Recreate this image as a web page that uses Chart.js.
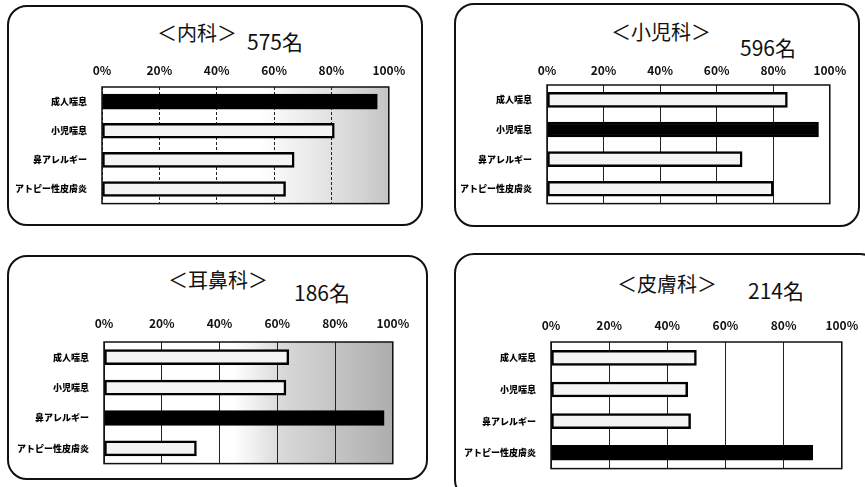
<!DOCTYPE html>
<html>
<head>
<meta charset="utf-8">
<script src="https://cdn.jsdelivr.net/npm/chart.js@4"></script>
<style>
  body { margin:0; width:865px; height:487px; overflow:hidden; background:#fff; position:relative;
         font-family:"Noto Sans CJK JP","Noto Sans",sans-serif; }
  .box { position:absolute; border:2px solid #111; border-radius:20px; box-sizing:border-box; }
  .t { position:absolute; font-size:20px; color:#111; white-space:nowrap; line-height:1; transform:translate(-50%,-50%); }
  .n { font-size:21px; }
  canvas { position:absolute; }
</style>
</head>
<body>
<script>
// Survey: share of respondents per condition, by clinical department
const categories = ['成人喘息', '小児喘息', '鼻アレルギー', 'アトピー性皮膚炎'];
const tickLabels = ['0%', '20%', '40%', '60%', '80%', '100%'];
const departments = ['内科', '小児科', '耳鼻科', '皮膚科'];
const respondents = [575, 596, 186, 214];
const naikaValues   = [96, 81, 67, 64];
const shonikaValues = [85, 96, 69, 80];
const jibikaValues  = [64, 63, 97, 32];
const hifukaValues  = [50, 47, 48, 90];
const highlighted   = [0, 1, 2, 3]; // condition emphasised in each department

const seriesByDept = [naikaValues, shonikaValues, jibikaValues, hifukaValues];

// Panel geometry and styling
const panels = [
  { box:{l:7, t:5, r:423, b:226},   plot:{l:102, t:87, r:391, b:213},
    title:{x:197, y:33}, count:{x:275, y:41}, tickGap:17, dash:[3,2],
    shade:[[0.55,0],[0.78,0.14],[0.9,0.22],[1,0.3]] },
  { box:{l:454, t:3, r:860, b:227}, plot:{l:547, t:85, r:830, b:213},
    title:{x:661, y:32}, count:{x:768, y:47}, tickGap:15, dash:[],
    shade:null },
  { box:{l:7, t:255, r:428, b:480}, plot:{l:104, t:342, r:397, b:473},
    title:{x:218, y:280}, count:{x:322, y:292}, tickGap:19, dash:[],
    shade:[[0.45,0],[0.62,0.2],[0.8,0.3],[1,0.42]] },
  { box:{l:454, t:253, r:880, b:500}, plot:{l:551, t:342, r:844, b:478},
    title:{x:667, y:284}, count:{x:776, y:290}, tickGap:17, dash:[],
    shade:null }
];

const Y_W = 92, X_H = 34, PAD_R = 24, PAD_B = 3;

function el(tag, cls, css, text) {
  const e = document.createElement(tag);
  if (cls) e.className = cls;
  Object.assign(e.style, css);
  if (text !== undefined) e.textContent = text;
  document.body.appendChild(e);
  return e;
}

const plotDecor = {
  id: 'plotDecor',
  beforeDraw(chart, args, opts) {
    const a = chart.chartArea, ctx = chart.ctx;
    if (opts.shade) {
      const g = ctx.createLinearGradient(a.left, 0, a.right, 0);
      opts.shade.forEach(([p, o]) => g.addColorStop(p, `rgba(60,60,60,${o})`));
      ctx.save();
      ctx.fillStyle = g;
      ctx.fillRect(a.left, a.top, a.right - a.left, a.bottom - a.top);
      ctx.restore();
    }
  },
  afterDraw(chart) {
    const a = chart.chartArea, ctx = chart.ctx;
    ctx.save();
    ctx.strokeStyle = '#111';
    ctx.lineWidth = 1.5;
    ctx.strokeRect(a.left, a.top, a.right - a.left, a.bottom - a.top);
    ctx.restore();
  }
};

panels.forEach((p, i) => {
  el('div', 'box', { left:p.box.l+'px', top:p.box.t+'px',
    width:(p.box.r-p.box.l)+'px', height:(p.box.b-p.box.t)+'px' });
  el('div', 't', { left:p.title.x+'px', top:p.title.y+'px' }, '＜' + departments[i] + '＞');
  el('div', 't n', { left:p.count.x+'px', top:p.count.y+'px' }, respondents[i] + '名');

  const w = (p.plot.r - p.plot.l) + Y_W + PAD_R;
  const h = (p.plot.b - p.plot.t) + X_H + PAD_B;
  const cv = el('canvas', null, { left:(p.plot.l - Y_W)+'px', top:(p.plot.t - X_H)+'px',
    width:w+'px', height:h+'px' });
  cv.width = w; cv.height = h;

  const values = seriesByDept[i];
  new Chart(cv, {
    type: 'bar',
    data: {
      labels: categories,
      datasets: [{
        data: values,
        backgroundColor: values.map((_, k) => k === highlighted[i] ? '#000' : '#f4f4f4'),
        borderColor: '#000',
        borderWidth: 2.5,
        borderSkipped: false,
        barThickness: 15
      }]
    },
    options: {
      indexAxis: 'y',
      responsive: false,
      animation: false,
      layout: { padding: { left:0, top:0, right:PAD_R, bottom:PAD_B } },
      plugins: { legend:{display:false}, tooltip:{enabled:false}, plotDecor:{ shade:p.shade } },
      scales: {
        x: {
          position: 'top', min: 0, max: 100,
          afterFit(s) { s.height = X_H; },
          ticks: { stepSize: 20, padding: p.tickGap - 7.2, color:'#111',
                   font:{ size:12, weight:'bold', family:'"Noto Sans CJK JP", sans-serif' },
                   callback: v => tickLabels[Math.round(v / 20)] },
          grid: { color:'#222', lineWidth:1, drawTicks:false, tickLength:0 },
          border: { display:false, dash:p.dash }
        },
        y: {
          afterFit(s) { s.width = Y_W; },
          ticks: { padding: 7, color:'#000',
                   font:{ size:9, weight:'900', family:'"Noto Sans CJK JP", sans-serif' } },
          grid: { display:false },
          border: { display:false }
        }
      }
    },
    plugins: [plotDecor]
  });
});
</script>
</body>
</html>
